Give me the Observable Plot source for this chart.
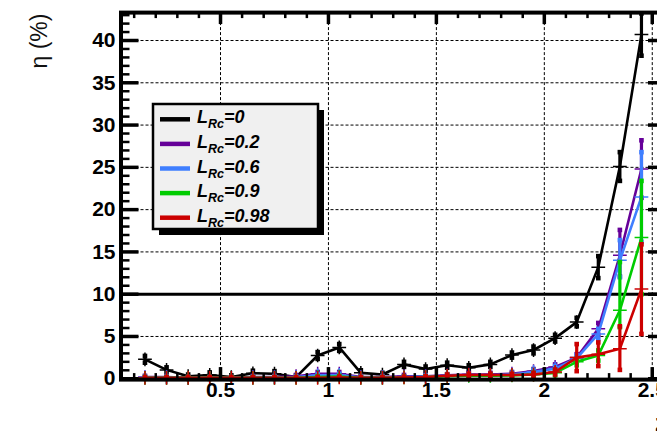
<!DOCTYPE html>
<html>
<head>
<meta charset="utf-8">
<script src="https://cdn.jsdelivr.net/npm/d3@7"></script>
<script src="https://cdn.jsdelivr.net/npm/@observablehq/plot@0.6"></script>
<style>
  html, body { margin: 0; padding: 0; background: #fff; overflow: hidden; }
  #chart svg { max-width: none !important; display: block; }
</style>
</head>
<body>
<div id="chart"></div>
<script>
// Redshift bin centres
const zBins = [0.15, 0.25, 0.35, 0.45, 0.55, 0.65, 0.75, 0.85, 0.95, 1.05, 1.15, 1.25,
               1.35, 1.45, 1.55, 1.65, 1.75, 1.85, 1.95, 2.05, 2.15, 2.25, 2.35, 2.45];

// Legend values of L_Rc and their colours
const lrcValues = ["0", "0.2", "0.6", "0.9", "0.98"];
const lrcColors = ["#000000", "#660099", "#3f7fff", "#00cc00", "#cc0000"];

// eta (%) per bin, one array per L_Rc
const etaL0   = [2.3, 1.05, 0.3, 0.45, 0.2, 0.65, 0.6, 0.2, 2.75, 3.7, 0.7, 0.5, 1.7, 1.15, 1.6, 1.3, 1.7, 2.8, 3.4, 4.8, 6.7, 13.2, 25.1, 40.7];
const etaL02  = [0.2, 0.2, 0.1, 0.1, 0.1, 0.2, 0.2, 0.3, 0.6, 0.6, 0.2, 0.2, 0.3, 0.3, 0.4, 0.5, 0.5, 0.6, 0.9, 1.4, 2.5, 5.9, 14.6, 24.8];
const etaL06  = [0.15, 0.15, 0.1, 0.1, 0.1, 0.15, 0.15, 0.2, 0.4, 0.45, 0.15, 0.15, 0.2, 0.25, 0.35, 0.4, 0.4, 0.5, 0.8, 1.2, 2.4, 5.3, 14.0, 21.5];
const etaL09  = [0.1, 0.1, 0.1, 0.1, 0.1, 0.1, 0.1, 0.1, 0.2, 0.25, 0.1, 0.1, 0.15, 0.2, 0.3, 0.35, 0.35, 0.4, 0.5, 0.7, 2.0, 2.75, 8.1, 16.7];
const etaL098 = [0.1, 0.1, 0.1, 0.1, 0.1, 0.1, 0.1, 0.1, 0.1, 0.15, 0.1, 0.1, 0.15, 0.2, 0.35, 0.45, 0.45, 0.45, 0.5, 0.8, 2.5, 2.9, 3.55, 10.6];

// Upper / lower uncertainties
const errUpL0   = [0.4, 0.3, 0.2, 0.3, 0.2, 0.3, 0.3, 0.2, 0.4, 0.4, 0.3, 0.2, 0.3, 0.3, 0.3, 0.3, 0.3, 0.3, 0.4, 0.4, 0.5, 1.3, 1.7, 2.5];
const errDnL0   = [0.4, 0.3, 0.2, 0.3, 0.2, 0.3, 0.3, 0.2, 0.4, 0.4, 0.3, 0.2, 0.3, 0.3, 0.3, 0.3, 0.3, 0.3, 0.4, 0.4, 0.5, 1.3, 1.7, 2.5];
const errUpL02  = [0.15, 0.15, 0.1, 0.1, 0.1, 0.15, 0.15, 0.15, 0.2, 0.2, 0.15, 0.15, 0.15, 0.15, 0.15, 0.2, 0.2, 0.2, 0.25, 0.3, 0.4, 0.7, 3.0, 3.4];
const errDnL02  = [0.15, 0.15, 0.1, 0.1, 0.1, 0.15, 0.15, 0.15, 0.2, 0.2, 0.15, 0.15, 0.15, 0.15, 0.15, 0.2, 0.2, 0.2, 0.25, 0.3, 0.4, 0.7, 2.5, 3.4];
const errUpL06  = [0.1, 0.1, 0.1, 0.1, 0.1, 0.1, 0.1, 0.1, 0.15, 0.15, 0.1, 0.1, 0.1, 0.15, 0.15, 0.15, 0.15, 0.2, 0.25, 0.3, 0.4, 0.6, 2.4, 5.3];
const errDnL06  = [0.1, 0.1, 0.1, 0.1, 0.1, 0.1, 0.1, 0.1, 0.15, 0.15, 0.1, 0.1, 0.1, 0.15, 0.15, 0.15, 0.15, 0.2, 0.25, 0.3, 0.4, 0.6, 2.0, 5.3];
const errUpL09  = [0.1, 0.1, 0.1, 0.1, 0.1, 0.1, 0.1, 0.1, 0.1, 0.1, 0.1, 0.1, 0.1, 0.1, 0.15, 0.15, 0.15, 0.15, 0.2, 0.3, 0.4, 0.6, 5.7, 6.7];
const errDnL09  = [0.1, 0.1, 0.1, 0.1, 0.1, 0.1, 0.1, 0.1, 0.1, 0.1, 0.1, 0.1, 0.1, 0.1, 0.15, 0.15, 0.15, 0.15, 0.2, 0.3, 0.4, 0.6, 2.0, 6.7];
const errUpL098 = [0.1, 0.1, 0.1, 0.1, 0.1, 0.1, 0.1, 0.1, 0.1, 0.1, 0.1, 0.1, 0.1, 0.1, 0.15, 0.15, 0.15, 0.15, 0.2, 0.3, 1.6, 1.4, 2.65, 5.3];
const errDnL098 = [0.1, 0.1, 0.1, 0.1, 0.1, 0.1, 0.1, 0.1, 0.1, 0.1, 0.1, 0.1, 0.1, 0.1, 0.15, 0.15, 0.15, 0.15, 0.2, 0.3, 1.6, 1.4, 2.5, 5.3];

// Axis ticks
const xMajor = [0.5, 1, 1.5, 2, 2.5];
const xMinor = [0.1, 0.2, 0.3, 0.4, 0.6, 0.7, 0.8, 0.9, 1.1, 1.2, 1.3, 1.4, 1.6, 1.7, 1.8, 1.9, 2.1, 2.2, 2.3, 2.4];
const yMajor = [0, 5, 10, 15, 20, 25, 30, 35, 40];
const yMinor = [1, 2, 3, 4, 6, 7, 8, 9, 11, 12, 13, 14, 16, 17, 18, 19, 21, 22, 23, 24,
                26, 27, 28, 29, 31, 32, 33, 34, 36, 37, 38, 39, 41, 42, 43];
const yGrid = [5, 15, 20, 25, 30, 35, 40];
const threshold = [10];

const etaSets = [etaL0, etaL02, etaL06, etaL09, etaL098];
const upSets = [errUpL0, errUpL02, errUpL06, errUpL09, errUpL098];
const dnSets = [errDnL0, errDnL02, errDnL06, errDnL09, errDnL098];

const series = etaSets.map((eta, s) => zBins.map((z, i) => ({
  z, eta: eta[i], lo: eta[i] - dnSets[s][i], hi: eta[i] + upSets[s][i]
})));

// Layout
const W = 672, H = 440;
const mL = 120.5, mR = 6, mT = 12.1, mB = 60.9;
const innerW = W - mL - mR, innerH = H - mT - mB;
const font = "Liberation Sans, Arial, Helvetica, sans-serif";

const marks = [
  Plot.ruleY(yGrid, {y: d => d, stroke: "black", strokeWidth: 1, strokeDasharray: "3,2"}),
  Plot.ruleX(xMajor, {x: d => d, stroke: "black", strokeWidth: 1, strokeDasharray: "3,2"}),
  Plot.ruleY(threshold, {y: d => d, stroke: "black", strokeWidth: 3})
];

series.forEach((rows, s) => {
  const c = lrcColors[s];
  marks.push(
    Plot.line(rows, {x: "z", y: "eta", stroke: c, strokeWidth: 2.6}),
    Plot.ruleX(rows, {x: "z", y1: "lo", y2: "hi", stroke: c, strokeWidth: 3.2}),
    Plot.dot(rows, {x: "z", y: "lo", symbol: "square", r: 2.6, fill: c, stroke: "none"}),
    Plot.dot(rows, {x: "z", y: "hi", symbol: "square", r: 2.6, fill: c, stroke: "none"}),
    Plot.dot(rows, {x: "z", y: "eta", symbol: "plus", r: 4.5, stroke: c, strokeWidth: 1.5})
  );
});

marks.push(
  // inward ticks on all four sides
  Plot.tickY(yMajor, {y: d => d, insetRight: innerW - 18, strokeWidth: 3.5}),
  Plot.tickY(yMinor, {y: d => d, insetRight: innerW - 9, strokeWidth: 2.5}),
  Plot.tickY(yMajor, {y: d => d, insetLeft: innerW - 18, strokeWidth: 3.5}),
  Plot.tickY(yMinor, {y: d => d, insetLeft: innerW - 9, strokeWidth: 2.5}),
  Plot.tickX(xMajor, {x: d => d, insetTop: innerH - 12, strokeWidth: 3.5}),
  Plot.tickX(xMinor, {x: d => d, insetTop: innerH - 6, strokeWidth: 2.5}),
  Plot.tickX(xMajor, {x: d => d, insetBottom: innerH - 12, strokeWidth: 3.5}),
  Plot.tickX(xMinor, {x: d => d, insetBottom: innerH - 6, strokeWidth: 2.5}),
  Plot.frame({stroke: "black", strokeWidth: 4}),
  // tick labels and titles
  Plot.text(yMajor, {y: d => d, text: d => String(d), frameAnchor: "left", dx: -5.5,
    textAnchor: "end", fontWeight: "bold", fontSize: 21, fontFamily: font, fill: "black"}),
  Plot.text(xMajor, {x: d => d, text: d => String(d), frameAnchor: "bottom", dy: 17,
    fontWeight: "bold", fontSize: 21, fontFamily: font, fill: "black"}),
  Plot.text(["z"], {text: d => d, frameAnchor: "bottom-right", dy: 51, textAnchor: "end",
    fontWeight: "bold", fontSize: 23, fontFamily: font, fill: "black"}),
  Plot.text(["η (%)"], {text: d => d, frameAnchor: "top-left", dx: -90.5, dy: 1, rotate: -90,
    textAnchor: "end", fontSize: 23, fontFamily: font, fill: "#111"})
);

const svg = Plot.plot({
  width: W, height: H,
  marginLeft: mL, marginRight: mR, marginTop: mT, marginBottom: mB,
  style: {background: "white", overflow: "hidden"},
  x: {domain: [0.039, 2.566], axis: null},
  y: {domain: [-0.1, 43.3], axis: null},
  marks
});

// Legend box with drop shadow
const lg = d3.select(svg).append("g").attr("font-family", font).attr("text-anchor", "start");
lg.append("rect").attr("x", 159).attr("y", 110).attr("width", 165).attr("height", 125).attr("fill", "black");
lg.append("rect").attr("x", 153).attr("y", 104).attr("width", 165).attr("height", 125)
  .attr("fill", "#f0f0f0").attr("stroke", "black").attr("stroke-width", 2.5);
const rowY = [119.3, 143.9, 168.5, 193.1, 217.7];
lrcValues.forEach((v, i) => {
  const y = rowY[i];
  lg.append("line").attr("x1", 160).attr("x2", 190).attr("y1", y).attr("y2", y)
    .attr("stroke", lrcColors[i]).attr("stroke-width", 4.5);
  const t = lg.append("text").attr("x", 197).attr("y", y + 4).attr("text-anchor", "start")
    .attr("font-weight", "bold").attr("font-style", "italic").attr("font-size", 18).attr("fill", "black");
  t.append("tspan").text("L");
  t.append("tspan").attr("dy", 5).attr("font-size", 12.5).text("Rc");
  t.append("tspan").attr("dy", -5).text("=" + v);
});

document.getElementById("chart").appendChild(svg);
</script>
</body>
</html>
